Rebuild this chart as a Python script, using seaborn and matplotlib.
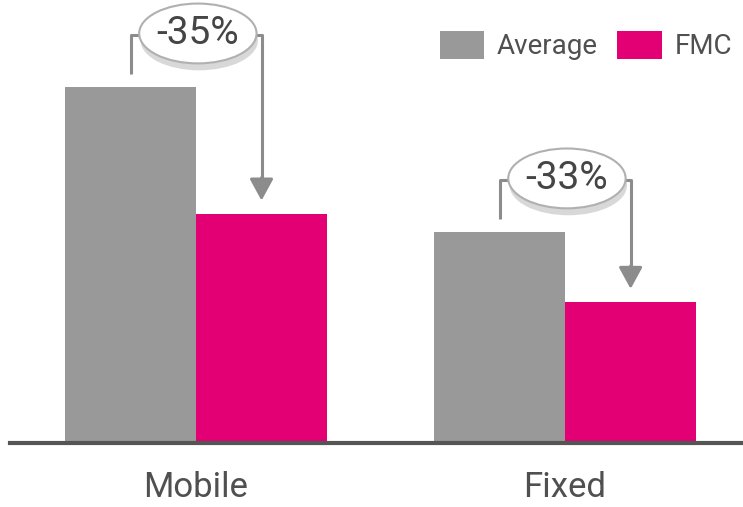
import numpy as np
import pandas as pd
import matplotlib
matplotlib.use("Agg")
import matplotlib.pyplot as plt
import matplotlib.patheffects as pe
from matplotlib.patches import Ellipse
import seaborn as sns

# datos (escala relativa, Mobile/Average = 100)
categorias = ["Mobile", "Fixed"]
average = [100, 59.3]
fmc = [64.3, 39.5]
etiquetas_cambio = ["-35%", "-33%"]
series = ["Average", "FMC"]

df = pd.DataFrame({
    "cat": categorias * 2,
    "serie": [series[0]] * 2 + [series[1]] * 2,
    "valor": average + fmc,
})

sns.set_theme(style="white")
plt.rcParams["font.family"] = ["Roboto", "DejaVu Sans"]

gris = "#999999"
magenta = "#E20074"
texto = "#505050"
linea = "#8c8c8c"

fig = plt.figure(figsize=(7.43, 5.07), dpi=100)
ax = fig.add_axes([10 / 743, 64 / 507, 733 / 743, 443 / 507])

ancho = 0.71
sns.barplot(data=df, x="cat", y="valor", hue="serie", order=categorias,
            hue_order=series, palette=[gris, magenta], width=ancho,
            saturation=1, ax=ax, linewidth=0)

ax.set_xlim(-0.504, 1.482)
ax.set_ylim(0, 124.4)
ax.set_xlabel("")
ax.set_ylabel("")
ax.set_yticks([])
for s in ["top", "right", "left"]:
    ax.spines[s].set_visible(False)
ax.spines["bottom"].set_color("#555555")
ax.spines["bottom"].set_linewidth(3)
ax.tick_params(axis="x", length=0, pad=20, labelsize=25, labelcolor=texto)

# flechas con porcentaje
for i in range(len(categorias)):
    x1 = i - ancho / 4
    x2 = i + ancho / 4
    y_top = average[i] + 14.5
    ax.plot([x1, x1, x2, x2], [average[i] + 3.5, y_top, y_top, fmc[i] + 10],
            color=linea, lw=2.2, solid_capstyle="butt", zorder=3)
    ax.annotate("", xy=(x2, fmc[i] + 3), xytext=(x2, fmc[i] + 11),
                arrowprops=dict(arrowstyle="-|>,head_length=1.1,head_width=0.6",
                                color=linea, lw=2.2), zorder=3)
    el = Ellipse((i + 0.005, y_top + 0.5), 0.318, 16.8, facecolor="white",
                 edgecolor="#b0b0b0", lw=1.5, zorder=4)
    el.set_path_effects([pe.SimplePatchShadow(offset=(1, -5), shadow_rgbFace="#aaaaaa", alpha=0.45),
                         pe.Normal()])
    ax.add_patch(el)
    ax.text(i + 0.005, y_top + 0.5, etiquetas_cambio[i], ha="center", va="center",
            fontsize=28, color="#454545", zorder=5)

leg = ax.legend(loc="upper right", bbox_to_anchor=(1.0, 0.955), ncol=2, frameon=False,
                fontsize=20, handlelength=1.6, handleheight=1.15, handletextpad=0.45,
                columnspacing=0.7, borderaxespad=0)
for t in leg.get_texts():
    t.set_color(texto)

fig.savefig("out.png", dpi=100)
